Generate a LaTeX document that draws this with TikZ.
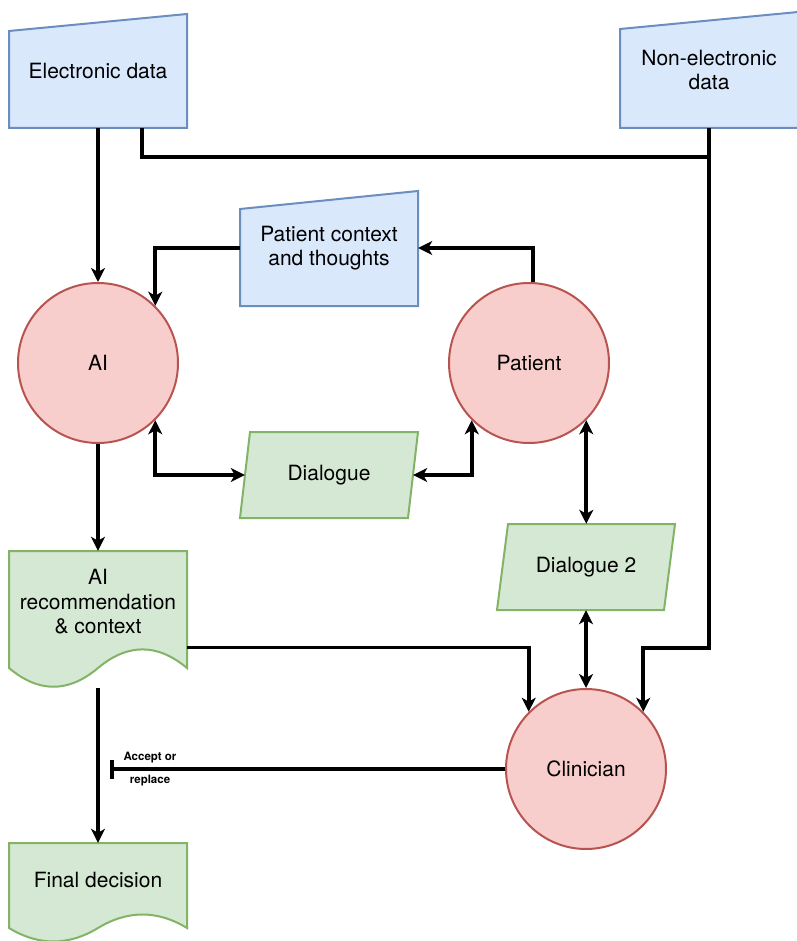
\documentclass[tikz,border=0pt]{standalone}
\usepackage{fontspec}
\setmainfont{TeX Gyre Heros}
\usetikzlibrary{arrows.meta,calc}
\pgfdeclarelayer{background}
\pgfsetlayers{background,main}
\definecolor{bfill}{HTML}{DAE8FC}
\definecolor{bline}{HTML}{6C8EBF}
\definecolor{rfill}{HTML}{F8CECC}
\definecolor{rline}{HTML}{B85450}
\definecolor{gfill}{HTML}{D5E8D4}
\definecolor{gline}{HTML}{82B366}
\tikzset{
  arw/.tip={Stealth[length=14pt, width=14pt, inset=4pt]},
  teebar/.tip={Bar[width=19pt, length=3.8pt]}
}
\begin{document}
\begin{tikzpicture}[x=1pt,y=-1pt,
  txt/.style={font=\fontsize{21}{24.5}\selectfont, align=center, inner sep=0pt},
  small/.style={font=\bfseries\fontsize{11.5}{13}\selectfont, inner sep=0pt},
  circ/.style={txt, circle, minimum size=160pt, fill=rfill, draw=rline, line width=2pt},
  bshape/.style={fill=bfill, draw=bline, line width=2pt, line join=miter},
  gshape/.style={fill=gfill, draw=gline, line width=2pt, line join=miter},
  conn/.style={line width=3.8pt, draw=black}
]
\useasboundingbox (0,0) rectangle (796,941);

% nodes
\node[txt, minimum width=178pt, minimum height=114pt] (ed) at (98,71) {Electronic data};
\node[txt, minimum width=178pt, minimum height=116pt] (ned) at (709,70) {Non-electronic\\data};
\node[txt, minimum width=178pt, minimum height=116pt] (pc) at (329,248) {Patient context\\and thoughts};
\node[circ] (ai) at (98,363) {AI};
\node[circ] (pat) at (529,363) {Patient};
\node[circ] (cli) at (586,769) {Clinician};
\node[txt, minimum width=168pt, minimum height=86pt] (dlg) at (329,475) {Dialogue};
\node[txt, minimum width=168pt, minimum height=86pt] (dlg2) at (586,567) {Dialogue 2};
\node[txt, minimum width=178pt, minimum height=137pt] (airec) at (98,619.5) {};
\node[txt] (airect) at (98,602) {AI\\recommendation\\\& context};
\node[txt, minimum width=178pt, minimum height=74pt] (fd) at (98,880) {Final decision};
\node[small] (acc) at (150,758) {Accept or};
\node[small] (rep) at (150,781) {replace};

\coordinate (j1) at (709,157);
\coordinate (j2) at (709,648);
\coordinate (teeend) at (110,769);

% shapes
\begin{pgfonlayer}{background}
\filldraw[bshape] (9,31) -- (187,14) -- (187,128) -- (9,128) -- cycle;
\filldraw[bshape] (620,29) -- (798,12) -- (798,128) -- (620,128) -- cycle;
\filldraw[bshape] (240,209) -- (418,191) -- (418,306) -- (240,306) -- cycle;
\filldraw[gshape] (250,432) -- (418,432) -- (408,518) -- (240,518) -- cycle;
\filldraw[gshape] (508,524) -- (675,524) -- (664,610) -- (497,610) -- cycle;
\filldraw[gshape] (9,551) -- (187,551) -- (187,668)
  .. controls (157.3,643.2) and (127.7,643.2) .. (98,668)
  .. controls (68.3,693) and (38.7,693) .. (9,668) -- cycle;
\filldraw[gshape] (9,843) -- (187,843) -- (187,928)
  .. controls (157.3,910) and (127.7,910) .. (98,928)
  .. controls (68.3,946) and (38.7,946) .. (9,928) -- cycle;
\end{pgfonlayer}

% connectors
\draw[conn,-{arw}] (ed.south) -- (ai.north);
\draw[conn] ([xshift=44pt]ed.south) |- (j1);
\draw[conn,-{arw}] (ned.south) -- (j2) -| (cli.north east);
\draw[conn,-{arw}] ([xshift=4pt]pat.north) |- (pc.east);
\draw[conn,-{arw}] (pc.west) -| (ai.north east);
\draw[conn,{arw}-{arw}] (ai.south east) |- (dlg.west);
\draw[conn,{arw}-{arw}] (dlg.east) -| (pat.south west);
\draw[conn,{arw}-{arw}] (pat.south east) -- (pat.south east |- dlg2.north);
\draw[conn,{arw}-{arw}] (dlg2.south) -- (cli.north);
\draw[conn,-{arw}] (ai.south) -- (airec.north);
\draw[conn,-{arw}] ([yshift=-28pt]airec.east) -| (cli.north west);
\draw[conn,-{arw}] (airec.south) -- (fd.north);
\draw[conn,-{teebar}] (cli.west) -- (teeend);
\end{tikzpicture}
\end{document}
